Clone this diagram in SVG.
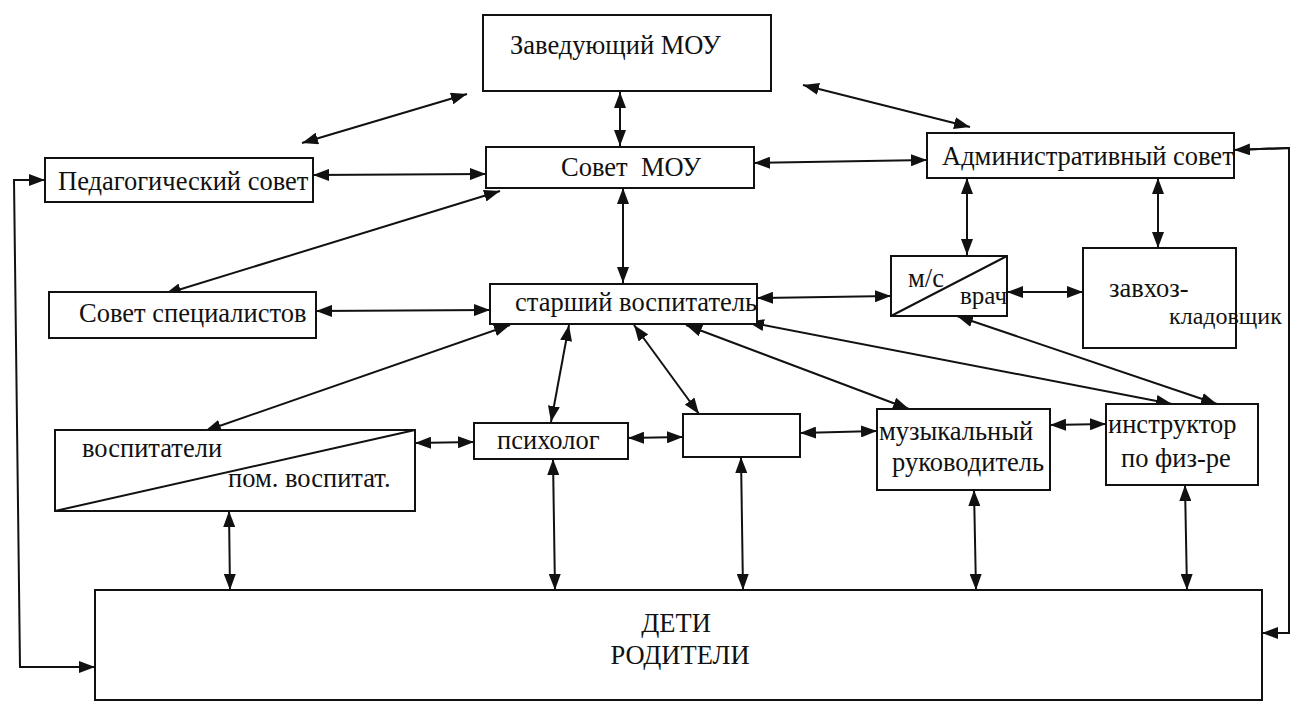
<svg xmlns="http://www.w3.org/2000/svg" width="1294" height="704" viewBox="0 0 1294 704">
<style>
.box{fill:#fff;stroke:#111;stroke-width:2}
.ln{fill:none;stroke:#111;stroke-width:2}
.c{stroke:#111;stroke-width:2;fill:none;marker-start:url(#a);marker-end:url(#a)}
.e{stroke:#111;stroke-width:2;fill:none;marker-end:url(#a)}
.t{font-size:26.5px;fill:#111}
</style>
<defs>
<marker id="a" viewBox="0 0 16 12" refX="16" refY="6" markerWidth="16" markerHeight="12" markerUnits="userSpaceOnUse" orient="auto-start-reverse">
<path d="M0,0 L16,6 L0,12 Z" fill="#111"/>
</marker>
</defs>
<rect width="1294" height="704" fill="#fff"/>

<g id="connectors">
<line class="c" x1="620" y1="92" x2="620" y2="146"/>
<line class="c" x1="467" y1="94" x2="302" y2="143"/>
<line class="c" x1="803" y1="85" x2="970" y2="127"/>
<line class="c" x1="313" y1="175" x2="486" y2="174"/>
<line class="c" x1="754" y1="163" x2="927" y2="160"/>
<line class="c" x1="500" y1="191" x2="165" y2="294"/>
<line class="c" x1="623" y1="188" x2="623" y2="283"/>
<line class="c" x1="967" y1="178" x2="967" y2="255"/>
<line class="c" x1="1158" y1="178" x2="1158" y2="248"/>
<line class="c" x1="316" y1="311" x2="490" y2="310"/>
<line class="c" x1="757" y1="298" x2="891" y2="296"/>
<line class="c" x1="1007" y1="292" x2="1083" y2="292"/>
<line class="c" x1="510" y1="325" x2="205" y2="431"/>
<line class="c" x1="569" y1="325" x2="551" y2="422"/>
<line class="c" x1="634" y1="325" x2="699" y2="414"/>
<line class="c" x1="686" y1="325" x2="909" y2="409"/>
<line class="c" x1="748" y1="322" x2="1172" y2="404"/>
<line class="c" x1="957" y1="316" x2="1217" y2="404"/>
<line class="c" x1="415" y1="443" x2="474" y2="442"/>
<line class="c" x1="628" y1="438" x2="683" y2="437"/>
<line class="c" x1="800" y1="433" x2="877" y2="431"/>
<line class="c" x1="1050" y1="425" x2="1106" y2="424"/>
<line class="c" x1="229" y1="511" x2="230" y2="590"/>
<line class="c" x1="553" y1="459" x2="555" y2="590"/>
<line class="c" x1="741" y1="457" x2="743" y2="590"/>
<line class="c" x1="974" y1="490" x2="976" y2="590"/>
<line class="c" x1="1185" y1="485" x2="1187" y2="590"/>
<polyline class="ln" points="45,180 14,180 20,667 95,667"/>
<line class="e" x1="14" y1="180" x2="45" y2="180"/>
<line class="e" x1="20" y1="667" x2="95" y2="667"/>
<polyline class="ln" points="1234,150 1289,148 1289,633 1262,633"/>
<line class="e" x1="1289" y1="148" x2="1234" y2="150"/>
<line class="e" x1="1289" y1="633" x2="1262" y2="633"/>
</g>

<g font-family="Liberation Serif, Times New Roman, DejaVu Serif, serif">
<g id="zaveduyushchiy">
<rect class="box" x="483" y="15" width="288" height="76"/>
<text class="t" x="510" y="54">Заведующий МОУ</text>
</g>
<g id="sovet-mou">
<rect class="box" x="486" y="147" width="268" height="41"/>
<text class="t" x="631" y="176" text-anchor="middle" xml:space="preserve">Совет  МОУ</text>
</g>
<g id="ped-sovet">
<rect class="box" x="45" y="158" width="268" height="44"/>
<text class="t" x="58" y="190">Педагогический совет</text>
</g>
<g id="adm-sovet">
<rect class="box" x="927" y="133" width="307" height="45"/>
<text class="t" x="942" y="165">Административный совет</text>
</g>
<g id="sovet-spec">
<rect class="box" x="49" y="292" width="267" height="46"/>
<text class="t" x="79" y="322">Совет специалистов</text>
</g>
<g id="starshiy">
<rect class="box" x="490" y="284" width="267" height="40"/>
<text class="t" x="515" y="311">старший воспитатель</text>
</g>
<g id="ms-vrach">
<rect class="box" x="891" y="256" width="116" height="60"/>
<line class="ln" x1="891" y1="316" x2="1007" y2="256"/>
<text class="t" x="908" y="287">м/с</text>
<text class="t" x="960" y="304" style="font-size:25px">врач</text>
</g>
<g id="zavkhoz">
<rect class="box" x="1083" y="248" width="153" height="100"/>
<text class="t" x="1109" y="297">завхоз-</text>
<text class="t" x="1169" y="324" style="font-size:24px">кладовщик</text>
</g>
<g id="vospitateli">
<rect class="box" x="55" y="430" width="360" height="81"/>
<line class="ln" x1="55" y1="511" x2="415" y2="430"/>
<text class="t" x="82" y="457">воспитатели</text>
<text class="t" x="228" y="487">пом. воспитат.</text>
</g>
<g id="psikholog">
<rect class="box" x="474" y="423" width="154" height="36"/>
<text class="t" x="497" y="449">психолог</text>
</g>
<g id="empty">
<rect class="box" x="683" y="414" width="117" height="43"/>
</g>
<g id="muz-ruk">
<rect class="box" x="877" y="409" width="173" height="81"/>
<text class="t" x="879" y="440">музыкальный</text>
<text class="t" x="892" y="471">руководитель</text>
</g>
<g id="instruktor">
<rect class="box" x="1106" y="404" width="152" height="81"/>
<text class="t" x="1108" y="433">инструктор</text>
<text class="t" x="1121" y="467">по физ-ре</text>
</g>
<g id="deti">
<rect class="box" x="95" y="590" width="1167" height="110"/>
<text class="t" x="676" y="632" text-anchor="middle">ДЕТИ</text>
<text class="t" x="680" y="664" text-anchor="middle">РОДИТЕЛИ</text>
</g>
</g>
</svg>
